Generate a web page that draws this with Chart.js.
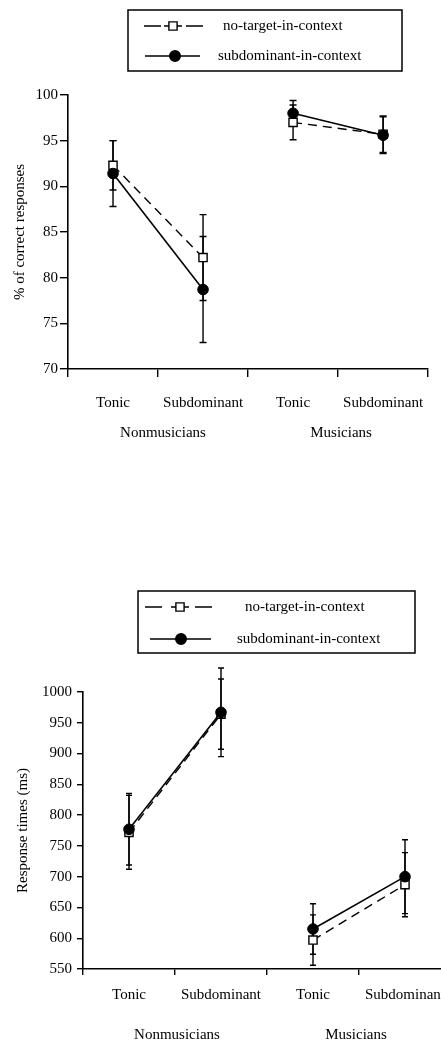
<!DOCTYPE html>
<html lang="en">
<head>
<meta charset="UTF-8" />
<title>Tonic vs subdominant targets</title>
<script src="https://cdn.jsdelivr.net/npm/chart.js"></script>
<style>
  * { margin: 0; padding: 0; box-sizing: border-box; }
  html, body { width: 441px; height: 1042px; overflow: hidden; background: #fff; }
  #page { position: relative; width: 441px; height: 1042px; overflow: hidden; }
  #accuracy-chart { position: absolute; left: 0; top: 0; }
  #rt-chart { position: absolute; left: 0; top: 540px; }
</style>
</head>
<body>
<div id="page">
  <canvas id="accuracy-chart" width="441" height="450"></canvas>
  <canvas id="rt-chart" width="460" height="502"></canvas>
</div>
<script>
var categories = ["Tonic", "Subdominant", "Tonic", "Subdominant"];
var groups = ["Nonmusicians", "Musicians"];
var seriesNames = ["no-target-in-context", "subdominant-in-context"];

// % of correct responses (means and error bar half-lengths)
var accNoTarget = [92.3, 82.2, 97.0, 95.7];
var accNoTargetErr = [2.7, 4.7, 1.9, 2.0];
var accSubdom = [91.4, 78.7, 98.0, 95.6];
var accSubdomErr = [3.6, 5.8, 1.4, 2.0];
var accTicks = [70, 75, 80, 85, 90, 95, 100];

// response times in ms
var rtNoTarget = [772, 964, 597, 687];
var rtNoTargetErr = [60, 57, 41, 52];
var rtSubdom = [777, 967, 615, 700];
var rtSubdomErr = [58, 72, 41, 60];
var rtTicks = [550, 600, 650, 700, 750, 800, 850, 900, 950, 1000];

Chart.defaults.font.family = '"Liberation Serif", "Times New Roman", serif';
Chart.defaults.font.size = 15;
Chart.defaults.color = "#000";

function drawMarker(ctx, style, x, y, r) {
  ctx.save();
  ctx.lineWidth = 1.4;
  ctx.strokeStyle = "#000";
  ctx.beginPath();
  if (style === "rect") {
    var s = r * Math.SQRT1_2;
    ctx.rect(x - s, y - s, 2 * s, 2 * s);
    ctx.fillStyle = "#fff";
  } else {
    ctx.arc(x, y, r, 0, Math.PI * 2);
    ctx.fillStyle = "#000";
  }
  ctx.fill();
  ctx.stroke();
  ctx.restore();
}

// error bars, boxed legend and group labels under the x axis
var figurePlugin = {
  id: "figure",
  beforeDatasetsDraw: function (chart, args, opts) {
    var ctx = chart.ctx;
    var yScale = chart.scales.y;
    ctx.save();
    ctx.strokeStyle = "#000";
    ctx.lineWidth = 1.4;
    chart.data.datasets.forEach(function (ds, i) {
      var meta = chart.getDatasetMeta(i);
      ds.data.forEach(function (v, j) {
        var x = meta.data[j].x;
        var top = yScale.getPixelForValue(v + ds.errors[j]);
        var bot = yScale.getPixelForValue(v - ds.errors[j]);
        ctx.beginPath();
        ctx.moveTo(x, top);
        ctx.lineTo(x, bot);
        ctx.moveTo(x - opts.cap, top);
        ctx.lineTo(x + opts.cap, top);
        ctx.moveTo(x - opts.cap, bot);
        ctx.lineTo(x + opts.cap, bot);
        ctx.stroke();
      });
    });
    ctx.restore();
  },
  afterDraw: function (chart, args, opts) {
    var ctx = chart.ctx;
    var box = opts.box;
    ctx.save();
    ctx.strokeStyle = "#000";
    ctx.lineWidth = 1.5;
    ctx.strokeRect(box.x, box.y, box.w, box.h);

    ctx.font = '15px "Liberation Serif", "Times New Roman", serif';
    ctx.fillStyle = "#000";
    ctx.textBaseline = "middle";
    ctx.textAlign = "left";
    chart.data.datasets.forEach(function (ds, i) {
      var row = opts.rows[i];
      ctx.beginPath();
      ctx.lineWidth = 1.4;
      if (ds.borderDash) {
        ctx.moveTo(row.x0, row.y);
        ctx.lineTo(row.x0 + 17, row.y);
        ctx.moveTo(row.mx - 9, row.y);
        ctx.lineTo(row.mx + 9, row.y);
        ctx.moveTo(row.x1 - 17, row.y);
        ctx.lineTo(row.x1, row.y);
      } else {
        ctx.moveTo(row.x0, row.y);
        ctx.lineTo(row.x1, row.y);
      }
      ctx.stroke();
      drawMarker(ctx, ds.pointStyle, row.mx, row.y, ds.pointRadius);
      ctx.fillText(ds.label, row.tx, row.y);
    });

    var xScale = chart.scales.x;
    ctx.textAlign = "center";
    groups.forEach(function (g, k) {
      var gx = (xScale.getPixelForValue(2 * k) + xScale.getPixelForValue(2 * k + 1)) / 2;
      ctx.fillText(g, gx + opts.groupShift[k], chart.chartArea.bottom + opts.groupOffset);
    });
    ctx.restore();
  }
};

// no line between the last nonmusician point and the first musician point
function groupBreak(ctx) {
  return ctx.p0DataIndex === 1 ? "rgba(0,0,0,0)" : "#000";
}

function makeDatasets(noTarget, noTargetErr, subdom, subdomErr) {
  return [
    {
      label: seriesNames[0],
      data: noTarget,
      errors: noTargetErr,
      borderColor: "#000",
      borderWidth: 1.4,
      borderDash: [9, 6],
      segment: { borderColor: groupBreak },
      pointStyle: "rect",
      pointRadius: 5.8,
      pointBackgroundColor: "#fff",
      pointBorderColor: "#000",
      pointBorderWidth: 1.4,
      clip: false,
      order: 1
    },
    {
      label: seriesNames[1],
      data: subdom,
      errors: subdomErr,
      borderColor: "#000",
      borderWidth: 1.6,
      segment: { borderColor: groupBreak },
      pointStyle: "circle",
      pointRadius: 5.3,
      pointBackgroundColor: "#000",
      pointBorderColor: "#000",
      pointBorderWidth: 1,
      clip: false,
      order: 0
    }
  ];
}

function makeScales(cfg) {
  return {
    x: {
      type: "category",
      offset: true,
      grid: { offset: true, drawOnChartArea: false, tickLength: cfg.xTick, color: "#000", lineWidth: 1.4 },
      border: { display: true, color: "#000", width: 1.6 },
      ticks: { padding: cfg.xPad, maxRotation: 0, autoSkip: false },
      afterFit: function (s) { s.height = cfg.xHeight; }
    },
    y: {
      min: cfg.ticks[0],
      max: cfg.ticks[cfg.ticks.length - 1],
      afterBuildTicks: function (s) {
        s.ticks = cfg.ticks.map(function (v) { return { value: v }; });
      },
      grid: { drawOnChartArea: false, tickLength: cfg.yTick, color: "#000", lineWidth: 1.4 },
      border: { display: true, color: "#000", width: 1.6 },
      ticks: { padding: cfg.yPad, callback: function (v) { return String(v); } },
      title: { display: true, text: cfg.title, padding: { top: cfg.titlePad, bottom: 0 } },
      afterFit: function (s) { s.width = cfg.yWidth; }
    }
  };
}

new Chart(document.getElementById("accuracy-chart"), {
  type: "line",
  data: {
    labels: categories,
    datasets: makeDatasets(accNoTarget, accNoTargetErr, accSubdom, accSubdomErr)
  },
  options: {
    responsive: false,
    animation: false,
    layout: { padding: { top: 95, left: 0, right: 1, bottom: 0 } },
    scales: makeScales({
      ticks: accTicks, title: "% of correct responses", titlePad: 11,
      yWidth: 68, yTick: 8, yPad: 2, xHeight: 81, xTick: 8, xPad: 17
    }),
    plugins: {
      legend: { display: false },
      tooltip: { enabled: false },
      figure: {
        cap: 3.5,
        box: { x: 128, y: 10, w: 274, h: 61 },
        rows: [
          { y: 26, x0: 144, x1: 203, mx: 173, tx: 223 },
          { y: 56, x0: 145, x1: 200, mx: 175, tx: 218 }
        ],
        groupOffset: 64,
        groupShift: [5, 3]
      }
    }
  },
  plugins: [figurePlugin]
});

new Chart(document.getElementById("rt-chart"), {
  type: "line",
  data: {
    labels: categories,
    datasets: makeDatasets(rtNoTarget, rtNoTargetErr, rtSubdom, rtSubdomErr)
  },
  options: {
    responsive: false,
    animation: false,
    layout: { padding: { top: 152, left: 0, right: 9, bottom: 0 } },
    scales: makeScales({
      ticks: rtTicks, title: "Response times (ms)", titlePad: 14,
      yWidth: 83, yTick: 6, yPad: 5, xHeight: 73, xTick: 6, xPad: 11
    }),
    plugins: {
      legend: { display: false },
      tooltip: { enabled: false },
      figure: {
        cap: 3,
        box: { x: 138, y: 51, w: 277, h: 62 },
        rows: [
          { y: 67, x0: 145, x1: 212, mx: 180, tx: 245 },
          { y: 99, x0: 150, x1: 211, mx: 181, tx: 237 }
        ],
        groupOffset: 66,
        groupShift: [2, -3]
      }
    }
  },
  plugins: [figurePlugin]
});
</script>
</body>
</html>
